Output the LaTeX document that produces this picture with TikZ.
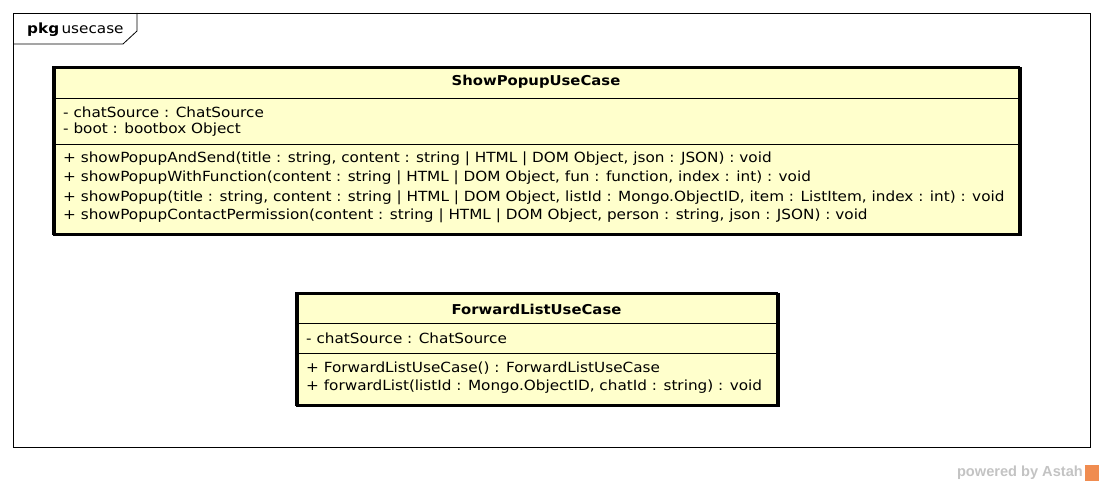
\documentclass[tikz,border=0pt]{standalone}
\usepackage{fontspec}
\setmainfont{DejaVu Sans}[FakeStretch=1.09]
\newfontfamily\wmfont{Liberation Sans}
\definecolor{clsfill}{RGB}{255,255,204}
\definecolor{astahgray}{RGB}{195,195,195}
\definecolor{astahorange}{RGB}{240,140,80}
\begin{document}
\begin{tikzpicture}[x=1pt,y=-1pt,
  clsbox/.style={draw=black,line width=2.5pt,fill=clsfill,rectangle,inner sep=0pt,anchor=north west},
  sepline/.style={line width=0.9pt},
  member/.style={anchor=west,inner sep=0pt,font=\fontsize{14}{16}\selectfont},
  clsname/.style={anchor=center,inner sep=0pt,font=\fontsize{13.6}{16}\selectfont\bfseries}]
\useasboundingbox (0,0) rectangle (1104,486);
% package frame
\draw[line width=0.8pt] (13,13) rectangle (1090,447);
\draw[line width=0.8pt] (137,13) -- (137,31) -- (123,44) -- (13,44);
\node[anchor=west,inner sep=0pt,font=\fontsize{14}{16}\selectfont] (pkglabel) at (27,30) {\textbf{pkg}\,usecase};
% ShowPopupUseCase
\node[clsbox,minimum width=966pt,minimum height=167pt] (sp) at (53,67) {};
\draw[sepline] (53,98) -- (1019,98);
\draw[sepline] (53,144) -- (1019,144);
\node[clsname] (spname) at (536,82) {ShowPopupUseCase};
\node[member] (spa1) at (63,112) {- chatSource : ChatSource};
\node[member] (spa2) at (63,130) {- boot : bootbox Object};
\node[member] (spo1) at (63,159) {+ showPopupAndSend(title : string, content : string | HTML | DOM Object, json : JSON) : void};
\node[member] (spo2) at (63,178) {+ showPopupWithFunction(content : string | HTML | DOM Object, fun : function, index : int) : void};
\node[member] (spo3) at (63,198) {+ showPopup(title : string, content : string | HTML | DOM Object, listId : Mongo.ObjectID, item : ListItem, index : int) : void};
\node[member] (spo4) at (63,216) {+ showPopupContactPermission(content : string | HTML | DOM Object, person : string, json : JSON) : void};
\draw[line width=2.5pt] (53,67) rectangle (1019,234);
% ForwardListUseCase
\node[clsbox,minimum width=481pt,minimum height=112pt] (fl) at (296,293) {};
\draw[sepline] (296,323) -- (777,323);
\draw[sepline] (296,353) -- (777,353);
\node[clsname] (flname) at (536.5,309) {ForwardListUseCase};
\node[member] (fla1) at (306,338) {- chatSource : ChatSource};
\node[member] (flo1) at (306,368) {+ ForwardListUseCase() : ForwardListUseCase};
\node[member] (flo2) at (306,387) {+ forwardList(listId : Mongo.ObjectID, chatId : string) : void};
\draw[line width=2.5pt] (296,293) rectangle (777,405);
% watermark
\node[anchor=east,inner sep=0pt,text=astahgray,font=\fontsize{14.6}{16}\selectfont\bfseries\wmfont] (wm) at (1083,473) {powered by Astah};
\fill[astahorange] (1085,465) rectangle (1099,481);
\end{tikzpicture}
\end{document}
